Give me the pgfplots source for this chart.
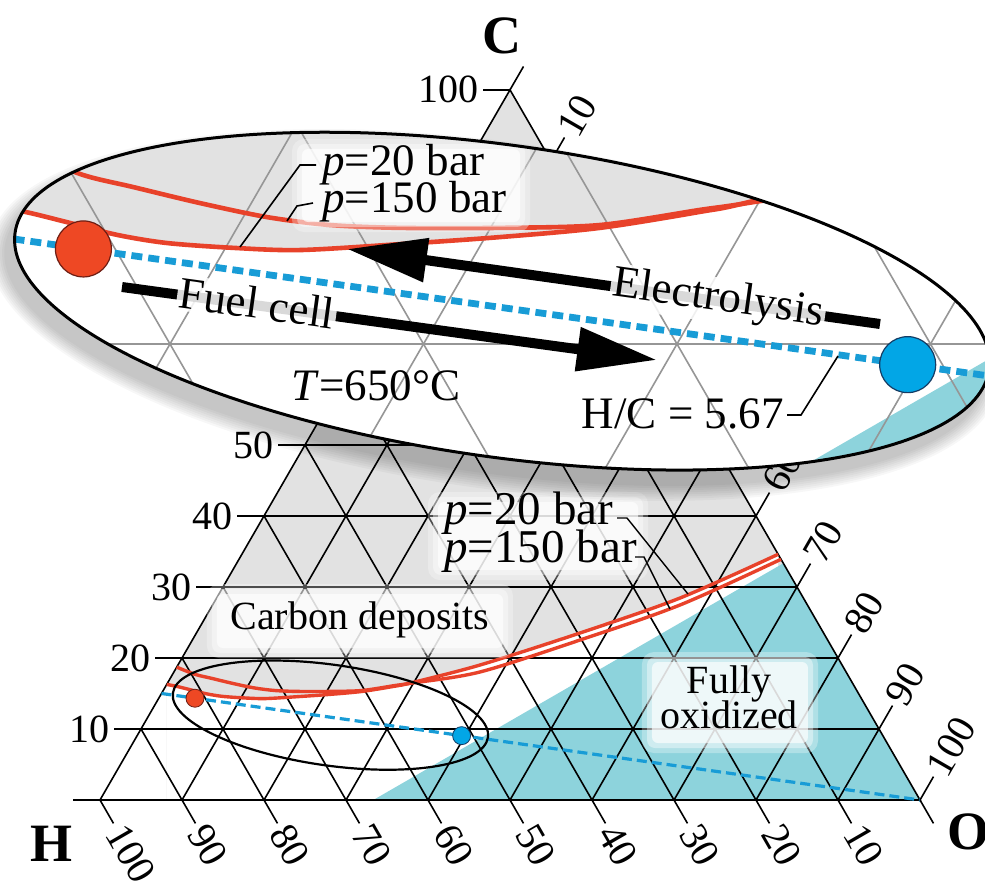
\documentclass[border=0pt]{standalone}
\usepackage{pgfplots}
\pgfplotsset{compat=1.18}
\usepackage{pgfplotstable}
\usetikzlibrary{arrows.meta}
\usepackage{fontspec}
\setmainfont{Liberation Serif}

\definecolor{curvered}{RGB}{232,66,42}
\definecolor{dotred}{RGB}{238,72,36}
\definecolor{dotredline}{RGB}{110,30,20}
\definecolor{hcblue}{RGB}{24,156,214}
\definecolor{dotblue}{RGB}{2,166,230}
\definecolor{dotblueline}{RGB}{20,60,100}
\definecolor{oxteal}{RGB}{141,211,220}
\definecolor{depgray}{RGB}{226,226,226}
\definecolor{insetgrid}{RGB}{150,150,150}

% composition (C %, O %) -> position in the triangle (H corner at the origin)
\newcommand\tc[2]{(axis cs:{(#2)+0.5*(#1)},{0.8660254*(#1)})}
% page position (985 x 891 grid, y downwards) on the main axis
\newcommand\pix[2]{(axis cs:{((#1)-100)/8.2},{(800-(#2))/8.2})}
% page position inside the magnified view
\newcommand\ins[2]{(axis cs:{8.294+(#1)/25.35},{2.901+(490-(#2))/25.35})}

\pgfplotsset{table/tern/.style={x expr={\thisrow{O}+0.5*\thisrow{C}},
                                 y expr={0.8660254*\thisrow{C}}}}

% whole composition triangle
\pgfplotstableread{
C O
0 0
0 100
100 0
}\wholetri

% fully oxidized region: H2O -- CO2 -- O
\pgfplotstableread{
C O
0 33.333
33.333 66.667
0 100
}\oxidized

% carbon deposition boundary, p = 150 bar
\pgfplotstableread{
C O
18.71 0.00
17.70 2.72
17.15 4.97
16.42 7.97
15.78 10.94
15.42 13.60
15.29 16.43
15.29 20.38
15.42 24.25
16.11 27.86
16.46 29.77
18.03 37.33
22.53 47.28
27.46 57.00
33.90 66.10
}\curveHigh

% carbon deposition boundary, p = 20 bar
\pgfplotstableread{
C O
16.28 0.00
15.97 1.49
15.55 3.16
14.97 5.43
14.60 7.58
14.38 10.30
14.28 12.99
14.55 16.80
14.87 20.58
15.29 24.32
16.02 27.90
16.51 29.74
19.01 36.84
23.52 46.78
28.44 56.51
34.60 65.40
}\curveLow

% H/C = 5.67 line
\pgfplotstableread{
C O
15 0
0 100
}\hcline

\pgfplotstableread{
C O
14.33 4.42
}\statered

\pgfplotstableread{
C O
9.06 39.57
}\stateblue

\newcommand\ternbody{%
  \addplot[fill=depgray, draw=none] table[tern] {\wholetri};
  \addplot[fill=white, draw=none, smooth] table[tern] {\curveLow} \closedcycle;
  \fill[white] (axis cs:0,0) -- \tc{16.28}{0} -- (axis cs:8.14,0) -- cycle;
  \addplot[fill=oxteal, draw=none] table[tern] {\oxidized};
  \pgfplotsinvokeforeach{10,20,...,90}{%
    \draw[gridline] \tc{##1}{0} -- \tc{##1}{100-##1};
    \draw[gridline] \tc{0}{##1} -- \tc{100-##1}{##1};
    \draw[gridline] \tc{0}{100-##1} -- \tc{100-##1}{0};
  }%
  \draw[gridline] \tc{0}{0} -- \tc{0}{100} -- \tc{100}{0} -- cycle;
  \addplot[boundary] table[tern] {\curveHigh};
  \addplot[boundary] table[tern] {\curveLow};
  \addplot[hcline] table[tern] {\hcline};
  \addplot[reddot] table[tern] {\statered};
  \addplot[bluedot] table[tern] {\stateblue};
}

% soft white box behind a label, corners in page positions
\newcommand\glow[4]{%
  \fill[white, opacity=0.3, rounded corners=6pt] \pix{#1-8}{#2-8} rectangle \pix{#3+8}{#4+8};
  \fill[white, opacity=0.4, rounded corners=4pt] \pix{#1-3}{#2-3} rectangle \pix{#3+3}{#4+3};
  \fill[white, opacity=0.65, rounded corners=3pt] \pix{#1+2}{#2+2} rectangle \pix{#3-2}{#4-2};
}
\newcommand\insglow[4]{%
  \fill[white, opacity=0.3, rounded corners=6pt] \ins{#1-8}{#2-8} rectangle \ins{#3+8}{#4+8};
  \fill[white, opacity=0.4, rounded corners=4pt] \ins{#1-3}{#2-3} rectangle \ins{#3+3}{#4+3};
  \fill[white, opacity=0.7, rounded corners=3pt] \ins{#1+2}{#2+2} rectangle \ins{#3-2}{#4-2};
}

\begin{document}
\begin{tikzpicture}
% styles of the full diagram
\tikzset{
  gridline/.style={black, line width=0.8pt},
  boundary/.style={curvered, line width=1.7pt, smooth},
  hcline/.style={hcblue, line width=1.6pt, dash pattern=on 5pt off 2.5pt},
  ticklab/.style={font=\fontsize{20}{24}\selectfont, inner sep=2pt},
  lab/.style={font=\fontsize{20}{24}\selectfont, inner sep=0pt},
  plab/.style={font=\fontsize{23.5}{27}\selectfont, inner sep=0pt},
  corner/.style={font=\bfseries\fontsize{27}{30}\selectfont},
}
\pgfplotsset{
  reddot/.style={only marks, mark=*, mark size=4.5pt,
    mark options={fill=dotred, draw=dotredline, line width=0.4pt}},
  bluedot/.style={only marks, mark=*, mark size=4.5pt,
    mark options={fill=dotblue, draw=dotblueline, line width=0.4pt}},
}
\begin{axis}[
  at={(0,0)}, anchor=south west,
  x=4.1pt, y=4.1pt,
  xmin=-12.195, xmax=107.927, ymin=-11.098, ymax=97.561,
  hide axis, clip=false,
]
\ternbody

% axis ticks and labels of the three components
\pgfplotsinvokeforeach{10,20,...,100}{%
  \draw[gridline] \tc{#1}{0} -- ++(-13.5pt,0pt) node[ticklab, anchor=east] {#1};
  \draw[gridline] \tc{100-#1}{#1} -- ++(6.75pt,11.69pt) node[ticklab, anchor=west, rotate=60] {#1};
  \draw[gridline] \tc{0}{100-#1} -- ++(6.75pt,-11.69pt) node[ticklab, anchor=west, rotate=-60] {#1};
}
\draw[gridline] \tc{0}{0} -- ++(-13.5pt,0pt);
\draw[gridline] \tc{100}{0} -- ++(6.75pt,11.69pt);
\draw[gridline] \tc{0}{100} -- ++(6.75pt,-11.69pt);

\path \pix{502}{36} node[corner] {C};
\path \pix{52}{844} node[corner] {H};
\path \pix{968}{832} node[corner] {O};

% region labels
\glow{215}{592}{505}{650}
\path \pix{360}{629} node[lab, anchor=base] {Carbon deposits};
\glow{650}{660}{810}{745}
\path \pix{729}{693} node[lab, anchor=base] {Fully};
\path \pix{729}{728} node[lab, anchor=base] {oxidized};

% pressure labels
\glow{436}{500}{640}{572}
\path \pix{444}{524} node[plab, anchor=base west] {\textit{p}=20 bar};
\path \pix{444}{562} node[plab, anchor=base west] {\textit{p}=150 bar};
\draw[line width=0.7pt] \pix{617}{518} -- \pix{627}{518} -- \pix{688}{594};
\draw[line width=0.7pt] \pix{635}{557} -- \pix{644}{557} -- \pix{670}{609};

% region shown magnified
\draw[line width=1.1pt, rotate around={-8:(axis cs:28.1,10.35)}]
  (axis cs:28.1,10.35) ellipse [x radius=79.54pt, y radius=25.2pt];

\path \pix{502.08}{301.16} coordinate (bigE);
\path \pix{494}{315} coordinate (shadowE);
\path \pix{0}{490} coordinate (insetSW);
\path (rel axis cs:0,0) coordinate (pageSW);
\path (rel axis cs:1,1) coordinate (pageNE);
\end{axis}

% drop shadow of the magnified view
\foreach \k in {1,...,8}{
  \fill[black, opacity=0.03, rotate around={-8:(shadowE)}]
    (shadowE) ellipse [x radius={245.9pt+\k*1.1pt}, y radius={77.95pt+\k*1.1pt}];
}

\begin{scope}
% styles of the magnified view
\tikzset{
  gridline/.style={insetgrid, line width=0.8pt},
  boundary/.style={curvered, line width=2.3pt, smooth},
  hcline/.style={hcblue, line width=3.4pt, dash pattern=on 5.5pt off 3pt},
  ilab/.style={font=\fontsize{22.5}{26}\selectfont, inner sep=0pt},
  bigarrow/.style={line width=5pt, -{Triangle[length=40pt, width=21pt]}},
}
\pgfplotsset{
  reddot/.style={only marks, mark=*, mark size=14pt,
    mark options={fill=dotred, draw=dotredline, line width=0.6pt}},
  bluedot/.style={only marks, mark=*, mark size=14pt,
    mark options={fill=dotblue, draw=dotblueline, line width=0.6pt}},
}
\clip[rotate around={-8:(bigE)}] (bigE) ellipse [x radius=245.9pt, y radius=77.95pt];
\fill[white] (bigE) circle [radius=300pt];
\begin{axis}[
  at={(insetSW)}, anchor=south west,
  x=12.675pt, y=12.675pt,
  xmin=8.294, xmax=47.15, ymin=2.901, ymax=18.285,
  hide axis, clip=false,
]
\ternbody

\insglow{300}{147}{522}{224}
\path \ins{322}{176} node[ilab, anchor=base west] {\textit{p}=20 bar};
\path \ins{322}{213} node[ilab, anchor=base west] {\textit{p}=150 bar};
\draw[line width=0.8pt] \ins{316}{165} -- \ins{300}{165} -- \ins{240}{247};
\draw[line width=0.8pt] \ins{313}{203} -- \ins{297}{206} -- \ins{287}{221};

\draw[bigarrow] \ins{880}{324} -- \ins{347}{249};
\path \ins{718}{300} node[ilab, rotate=-8, fill=white, fill opacity=0.85, text opacity=1, inner sep=1pt] {Electrolysis};
\draw[bigarrow] \ins{122}{287} -- \ins{657}{360};
\path \ins{257}{303} node[ilab, rotate=-7.8, fill=white, fill opacity=0.85, text opacity=1, inner sep=1pt] {Fuel cell};

\path \ins{376}{386} node[ilab] {\textit{T}=650°C};
\path \ins{784}{428} node[ilab, anchor=base east] {H/C = 5.67};
\draw[line width=0.8pt] \ins{787}{415} -- \ins{801}{415} -- \ins{838}{356};
\end{axis}
\end{scope}

\draw[line width=1.5pt, rotate around={-8:(bigE)}]
  (bigE) ellipse [x radius=245.9pt, y radius=77.95pt];

\pgfresetboundingbox
\useasboundingbox (pageSW) rectangle (pageNE);
\end{tikzpicture}
\end{document}
